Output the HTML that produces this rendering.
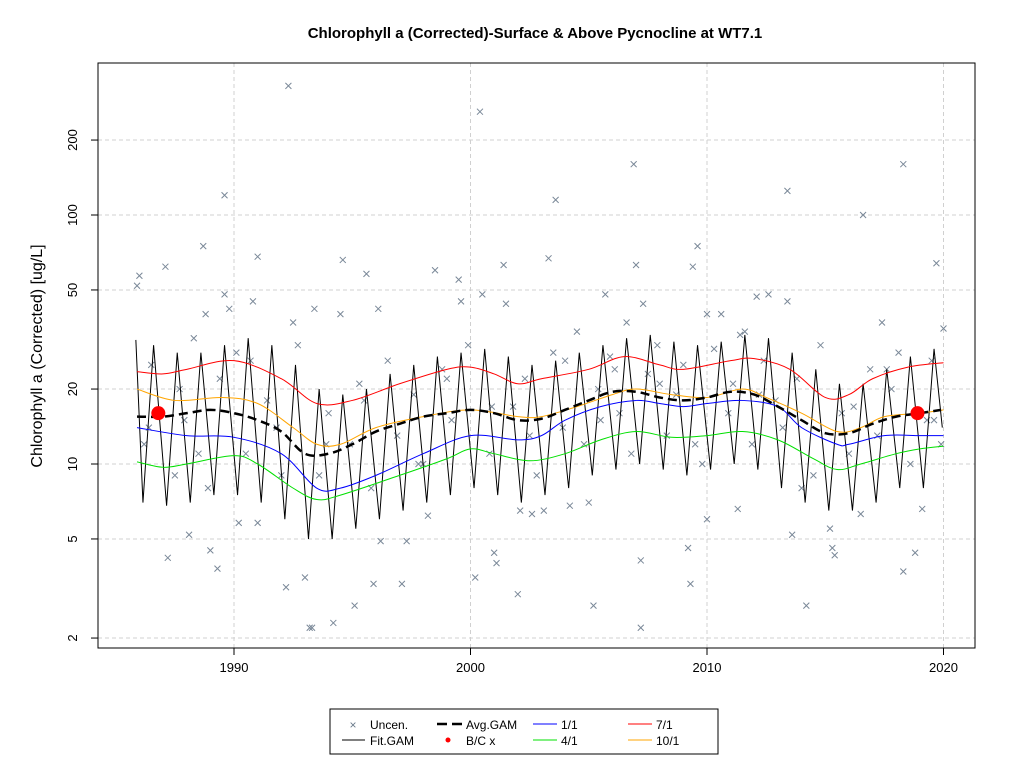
<!DOCTYPE html>
<html><head><meta charset="utf-8"><style>
body{margin:0;background:#fff;}
svg{display:block;font-family:"Liberation Sans",Arial,sans-serif;}
</style></head><body>
<svg id="chart" width="1024" height="768">
<rect width="1024" height="768" fill="#fff"/>
<text x="535" y="38" text-anchor="middle" font-size="15" font-weight="bold">Chlorophyll a (Corrected)-Surface &amp; Above Pycnocline at WT7.1</text>
<text transform="translate(42,356) rotate(-90)" text-anchor="middle" font-size="16">Chlorophyll a (Corrected) [ug/L]</text>
<g id="grid"></g>
<g id="marks"></g>
<rect x="98" y="63" width="877" height="585" fill="none" stroke="#000"/>
<g id="axes"></g>
<g>
<rect x="330" y="709" width="388" height="45" fill="#fff" stroke="#000"/>
<g><text x="353" y="729" text-anchor="middle" font-size="12" fill="#6a7a8a">×</text><text x="370" y="729" font-size="12">Uncen.</text></g>
<g><line x1="342" y1="740" x2="365" y2="740" stroke="#000"/><text x="370" y="745" font-size="12">Fit.GAM</text></g>
<g><line x1="437" y1="724" x2="462" y2="724" stroke="#000" stroke-width="2.5" stroke-dasharray="10,5"/><text x="466" y="729" font-size="12">Avg.GAM</text></g>
<g><circle cx="448" cy="740" r="2.5" fill="red"/><text x="466" y="745" font-size="12">B/C x</text></g>
<g><line x1="533" y1="724" x2="557" y2="724" stroke="blue"/><text x="561" y="729" font-size="12">1/1</text></g>
<g><line x1="533" y1="740" x2="557" y2="740" stroke="#00e000"/><text x="561" y="745" font-size="12">4/1</text></g>
<g><line x1="628" y1="724" x2="652" y2="724" stroke="red"/><text x="656" y="729" font-size="12">7/1</text></g>
<g><line x1="628" y1="740" x2="652" y2="740" stroke="orange"/><text x="656" y="745" font-size="12">10/1</text></g>
</g>
</svg>
<script>
const xTicks=[1990,2000,2010,2020];
const yTicks=[2,5,10,20,50,100,200];
const gamYears=[1986,1987,1988,1989,1990,1991,1992,1993,1994,1995,1996,1997,1998,1999,2000,2001,2002,2003,2004,2005,2006,2007,2008,2009,2010,2011,2012,2013,2014,2015,2016,2017,2018,2019];
const gamPeaks=[30,28,28,30,32,30,25,20,19,20,23,25,27,28,29,27,25,26,28,30,32,33,31,30,31,33,32,28,24,21,21,24,27,29];
const gamTroughs=[7,6.8,7,7.5,7.5,7,6,5,5,5.5,6,6.5,7,7.5,8,7.5,7,7.5,8,9,9.5,10,9.5,9,9.5,10,9.5,8,7,6.5,6.5,7,8,8];
const avgX=[1985.9,1987,1988,1989,1990,1991,1992,1993,1994,1995,1996,1997,1998,1999,2000,2001,2002,2003,2004,2005,2006,2007,2008,2009,2010,2011,2012,2013,2014,2015,2016,2017,2018,2019,2019.9];
const avgY=[15.5,15.5,16,16.5,16,15,13.5,11,11,12,13.5,14.5,15.5,16,16.5,16,15,15.2,16.5,18,19.5,19.5,18.5,18,18.5,19.5,19,17,15,13.3,13.3,14.5,15.5,16,16.5];
const blueX=[1985.9,1988,1990,1992,1993.5,1994.5,1996,1998,2000,2002,2003,2004,2005.5,2007,2008,2009,2010,2011.5,2013,2014,2015.5,2016,2017.5,2019,2020];
const blueY=[14,13,12.8,11,8,8,9,11,13,12.5,13,15,17,18,17.5,17,17.5,18,17,14,12,12,13,13,13];
const redX=[1985.9,1987,1988,1990,1992,1993.5,1995,1997,1999,2000,2001,2002,2003,2005,2006.5,2008,2009,2011,2012,2013.5,2015,2016,2017,2018.5,2020];
const redY=[23.5,23,24,26,22,17.5,18,21,24,24.5,23,21,22,24,27,25,24,26,26.5,24,18.5,19,22,24.5,25.5];
const greenX=[1985.9,1987,1988,1990,1991,1992.5,1993.5,1994.5,1997,1999,2000,2001,2002.5,2004,2005.5,2007,2008.5,2010,2011.5,2013,2014.5,2015.5,2016.5,2018,2019,2020];
const greenY=[10.2,9.7,10,10.8,10,8,7.2,7.5,9,10.5,11.5,11,10.3,11,12.5,13.5,12.8,13,13.5,12.5,10.5,9.5,10,11,11.5,11.8];
const orangeX=[1985.9,1987.5,1989.5,1991,1992.5,1993.5,1994.5,1996,1998,2000,2002,2003,2004.5,2006,2007,2008.5,2010,2011.5,2012.5,2014,2015.5,2016.5,2017.5,2019,2020];
const orangeY=[20,18,18.5,17.5,14,12,12,14,15.5,16.5,15.5,15.5,17,19,20,19,18.5,20,18.5,16,13.5,14,15.5,16,16.5];
const bcX=[1986.8,2018.9];
const bcY=[16,16];
const ptX=[1992.3,2000.4,1989.6,2003.6,2006.9,2013.4,2018.3,2016.6,1985.9,1986,1987.1,1988.7,1988.8,1989.6,1989.8,1990.8,1991,1992.5,1993.4,1994.5,1994.6,1995.6,1996.1,1998.5,1999.5,1999.6,2000.5,2001.4,2001.5,2003.3,2005.7,2006.6,2007,2007.3,2009.4,2009.6,2010,2010.6,2012.1,2012.6,2013.4,2017.4,2019.7,2020,
1987.2,1988.1,1989,1989.3,1992.2,1993,1993.2,1993.3,1994.2,1995.1,1995.9,1997.1,1997.3,1996.2,1991,1990.2,2000.2,2001,2001.1,2002,2005.2,2007.2,2007.2,2009.2,2009.3,2010,2011.3,2013.6,2014.2,2015.3,2015.4,2015.2,2018.3,2018.8,2019.1,1998.2,2002.1,2002.6,2003.1,2004.2,2005,2016.5,
1986.2,1986.5,1987.5,1987.9,1988.3,1988.9,1989.4,1990.1,1990.5,1991.4,1991.8,1992.7,1993.6,1994,1994.9,1995.3,1995.8,1996.5,1996.9,1997.6,1998,1998.8,1999.2,1999.9,2000.8,2001.8,2002.3,2002.8,2003.5,2003.9,2004.5,2004.8,2005.4,2005.9,2006.3,2006.8,2007.5,2007.9,2008.3,2008.7,2009,2009.8,2010.3,2010.9,2011.1,2011.6,2011.9,2012.4,2012.9,2013.2,2013.8,2014.5,2014.8,2015.7,2016,2016.9,2017.2,2017.8,2018.1,2018.6,2019.3,2019.5,2019.9,
1986.4,1987.7,1988.5,1990.7,1992,1993.9,1995.5,1997.8,1999,2000.9,2002.5,2004,2005.5,2006.1,2008,2009.5,2011.4,2012.2,2014,2016.2,2017.6,2019.6];
const ptY=[330,260,120,115,160,125,160,100,52,57,62,75,40,48,42,45,68,37,42,40,66,58,42,60,55,45,48,63,44,67,48,37,63,44,62,75,40,40,47,48,45,37,64,35,
4.2,5.2,4.5,3.8,3.2,3.5,2.2,2.2,2.3,2.7,3.3,3.3,4.9,4.9,5.8,5.8,3.5,4.4,4,3,2.7,2.2,4.1,4.6,3.3,6,6.6,5.2,2.7,4.6,4.3,5.5,3.7,4.4,6.6,6.2,6.5,6.3,6.5,6.8,7,6.3,
12,25,9,15,32,8,22,28,11,18,14,30,9,16,12,21,8,26,13,19,10,24,15,30,11,17,22,9,28,14,34,12,20,27,16,11,23,30,13,19,25,10,29,16,21,34,12,26,18,14,22,9,30,16,11,24,13,20,28,10,15,26,12,
14,20,11,26,9,12,18,10,22,17,13,26,15,24,21,12,33,19,8,17,24,15];
const X0=98,X1=975;
function sx(t){return 234+(t-1990)*23.65;}
function sy(v){return 464-(Math.log10(v)-1)*249;}
const NS="http://www.w3.org/2000/svg";
function mk(tag,attrs,parent){const e=document.createElementNS(NS,tag);for(const k in attrs)e.setAttribute(k,attrs[k]);parent.appendChild(e);return e;}
function smooth(pts){
 let d=`M${pts[0][0]},${pts[0][1]}`;
 for(let i=0;i<pts.length-1;i++){
  const p0=pts[i-1]||pts[i],p1=pts[i],p2=pts[i+1],p3=pts[i+2]||p2;
  d+=`C${p1[0]+(p2[0]-p0[0])/6},${p1[1]+(p2[1]-p0[1])/6} ${p2[0]-(p3[0]-p1[0])/6},${p2[1]-(p3[1]-p1[1])/6} ${p2[0]},${p2[1]}`;
 }
 return d;
}
const grid=document.getElementById('grid'),marks=document.getElementById('marks'),axes=document.getElementById('axes');
xTicks.forEach(t=>{
 const g=mk('line',{x1:sx(t),x2:sx(t),y1:63,y2:648,stroke:'#d0d0d0','stroke-dasharray':'4,3'},grid);
 
 
 const tk=mk('line',{x1:sx(t),x2:sx(t),y1:648,y2:655,stroke:'#000'},axes);
 
 
 const lb=mk('text',{x:sx(t),y:672,'text-anchor':'middle','font-size':13},axes);
 lb.textContent=t;
 
 
});
yTicks.forEach(v=>{
 const g=mk('line',{x1:X0,x2:X1,y1:sy(v),y2:sy(v),stroke:'#d0d0d0','stroke-dasharray':'4,3'},grid);
 
 
 const tk=mk('line',{x1:91,x2:98,y1:sy(v),y2:sy(v),stroke:'#000'},axes);
 
 
 const lb=mk('text',{transform:`translate(77,${sy(v)}) rotate(-90)`,'text-anchor':'middle','font-size':13},axes);
 lb.textContent=v;
 
 
});
ptX.forEach((t,i)=>{
 const x=sx(t),y=sy(ptY[i]);
 const p=mk('path',{d:`M${x-3},${y-3}L${x+3},${y+3}M${x-3},${y+3}L${x+3},${y-3}`,stroke:'#7a8898','stroke-width':1},marks);
 
 
});
let fit=[[sx(1985.85),sy(gamPeaks[0]*1.05)]];
gamYears.forEach((yr,i)=>{
 fit.push([sx(yr+0.15),sy(gamTroughs[i])]);
 fit.push([sx(yr+0.6),sy(gamPeaks[i])]);
});
fit.push([sx(2019.95),sy(14)]);
const fl=mk('polyline',{points:fit.map(p=>p.join(',')).join(' '),fill:'none',stroke:'#000','stroke-width':1},marks);


function line(xs,ys,color,name,extra){
 const a=Object.assign({d:smooth(xs.map((t,i)=>[sx(t),sy(ys[i])])),fill:'none',stroke:color,'stroke-width':1},extra||{});
 const l=mk('path',a,marks);
 
 return l;
}
let l;
l=line(greenX,greenY,'#00e000','line-4-1');
l=line(blueX,blueY,'blue','line-1-1');
l=line(redX,redY,'red','line-7-1');
l=line(orangeX,orangeY,'orange','line-10-1');
l=line(avgX,avgY,'#000','avg-gam-line',{'stroke-width':2.5,'stroke-dasharray':'9,5'});
bcX.forEach((t,i)=>{
 const c=mk('circle',{cx:sx(t),cy:sy(bcY[i]),r:7,fill:'red'},marks);
 
 
});
</script>
</body></html>
